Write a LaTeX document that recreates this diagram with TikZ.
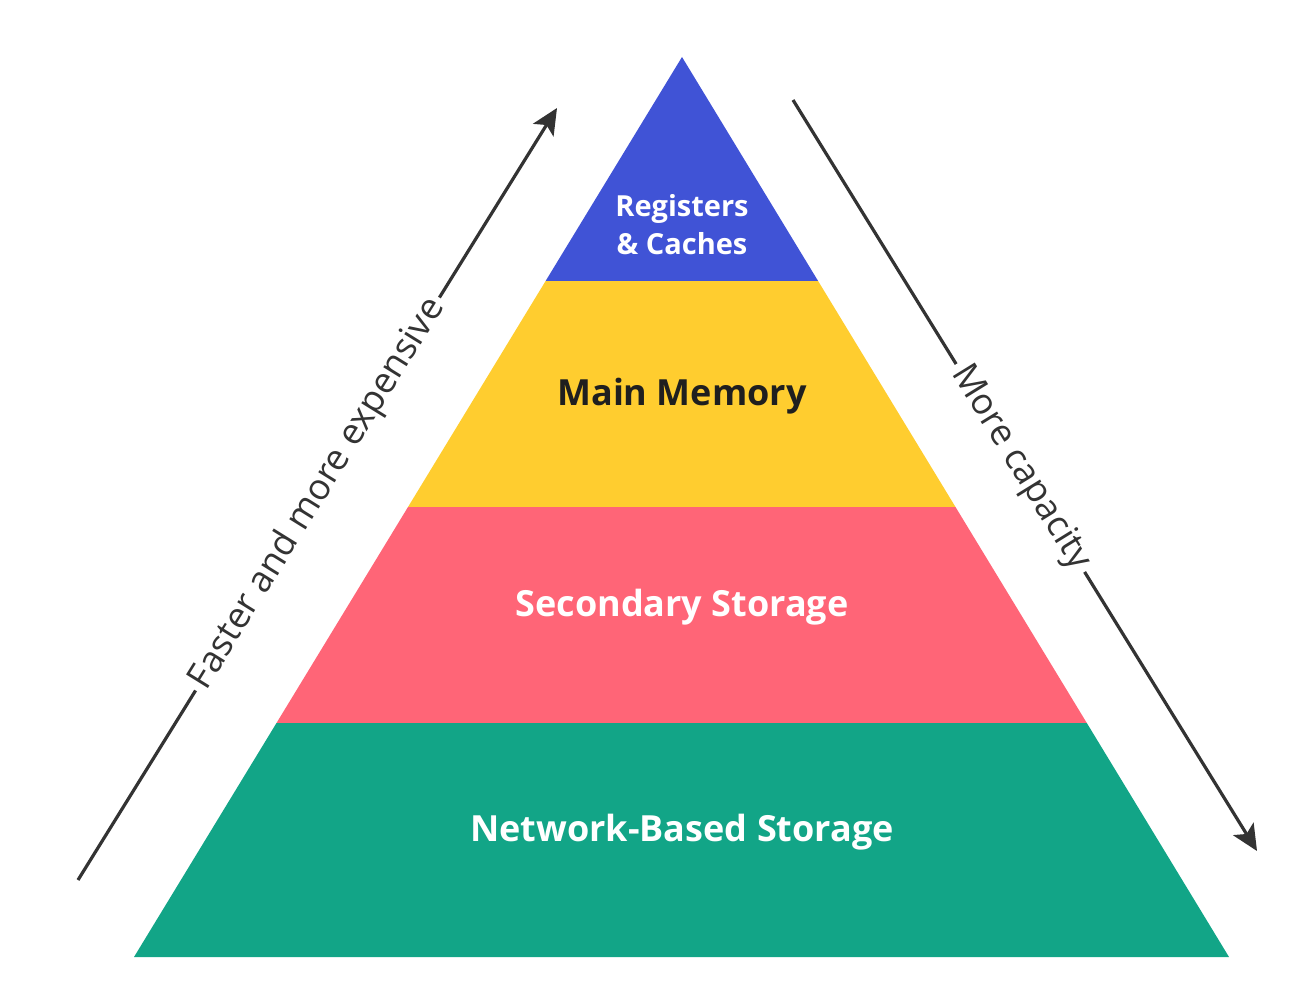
\documentclass[tikz,border=0pt]{standalone}
\usepackage{fontspec}
\setmainfont{Open Sans}
\usetikzlibrary{arrows.meta}

\definecolor{regblue}{HTML}{4053D6}
\definecolor{memyellow}{HTML}{FFCD2F}
\definecolor{secred}{HTML}{FF6577}
\definecolor{netgreen}{HTML}{12A587}
\definecolor{arrowgray}{HTML}{333333}

\begin{document}
\begin{tikzpicture}[x=1pt,y=-1pt,
    layer/.style={font=\fontsize{36}{42}\selectfont\bfseries,text=white,align=center},
    side/.style={draw=arrowgray,line width=3.2pt,-{Stealth[length=26pt,width=24pt,inset=6pt]}},
    sidelabel/.style={fill=white,sloped,font=\fontsize{36}{40}\selectfont,text=arrowgray,inner sep=5pt}]
      \useasboundingbox (0,0) rectangle (1311,998);

      % layers
      \fill[regblue] (682,57) -- (818.1,281) -- (545.6,281) -- cycle;
      \fill[memyellow] (545.6,281) -- (818.1,281) -- (955.5,507) -- (408,507) -- cycle;
      \fill[secred] (408,507) -- (955.5,507) -- (1086.8,723) -- (276.5,723) -- cycle;
      \fill[netgreen] (276.5,723) -- (1086.8,723) -- (1229,957) -- (134,957) -- cycle;

      \node[layer,font=\fontsize{29}{38}\selectfont\bfseries] (1) at (682,225) {Registers\\\& Caches};
      \node[layer,text=black!88] (2) at (682,396) {Main Memory};
      \node[layer] (3) at (682,607) {Secondary Storage};
      \node[layer] (4) at (682,832) {Network-Based Storage};

      % arrows
      \coordinate (fast1) at (78,880);
      \coordinate (fast2) at (557,108);
      \coordinate (cap1) at (793,100);
      \coordinate (cap2) at (1257,851);

      \draw[side] (fast1) -- node[sidelabel] {Faster and more expensive} (fast2);
      \draw[side] (cap1) -- node[sidelabel,pos=0.49] {More capacity} (cap2);
    \end{tikzpicture}
\end{document}
